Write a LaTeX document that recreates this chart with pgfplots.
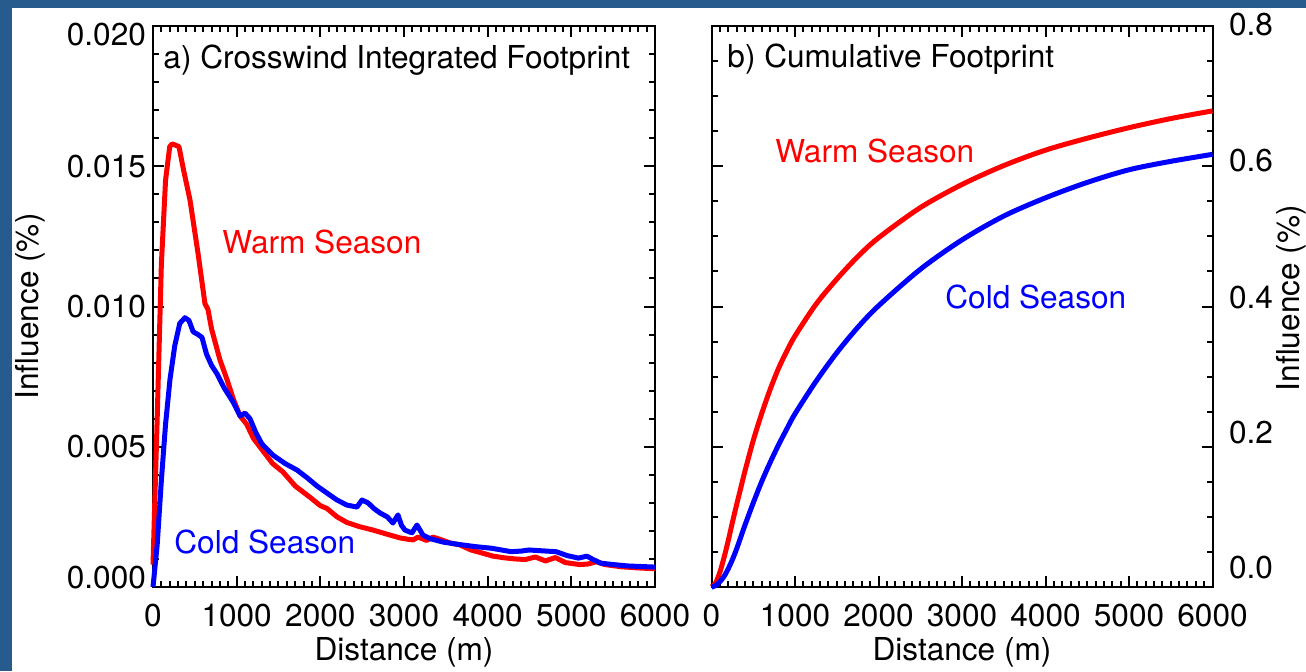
\documentclass[border=0pt]{standalone}
\usepackage{fontspec}
\setmainfont{TeX Gyre Heros}
\usepackage{pgfplots}
\pgfplotsset{compat=1.18}
\definecolor{frameblue}{RGB}{40,91,141}
\definecolor{wred}{RGB}{255,0,0}
\definecolor{cblue}{RGB}{0,0,255}

\pgfplotstableread{
x y
0 0.0008
50 0.006
100 0.0115
150 0.0145
200 0.0157
230 0.0158
310 0.0157
370 0.0148
442 0.0138
538 0.0119
621 0.0101
657 0.0099
700 0.0092
800 0.0081
884 0.0074
960 0.0067
1040 0.0061
1120 0.0058
1200 0.0053
1302 0.0049
1430 0.0044
1554 0.0041
1700 0.0036
1876 0.0032
2000 0.0029
2079 0.0028
2200 0.0025
2318 0.0023
2470 0.00215
2630 0.00203
2800 0.00188
2952 0.00175
3050 0.0017
3110 0.00168
3167 0.00178
3270 0.00166
3346 0.00178
3450 0.00168
3550 0.00157
3669 0.0015
3800 0.00132
3900 0.00124
4065 0.0011
4200 0.00104
4330 0.001
4450 0.00098
4570 0.00107
4690 0.00093
4810 0.00105
4930 0.00087
5100 0.0008
5200 0.00082
5300 0.0009
5400 0.0008
5600 0.00072
5800 0.00068
6000 0.00065
}\warmA

\pgfplotstableread{
x y
0 0
50 0.0015
100 0.0038
150 0.0058
203 0.0074
260 0.0086
320 0.0094
382 0.0096
430 0.0095
480 0.0091
538 0.0090
585 0.0089
640 0.0083
700 0.0079
765 0.0076
850 0.0071
956 0.0066
1040 0.0061
1100 0.0062
1159 0.0060
1230 0.0055
1302 0.0051
1434 0.0047
1580 0.0044
1721 0.00417
1840 0.0039
1960 0.0036
2079 0.00335
2200 0.0031
2318 0.00292
2438 0.00285
2498 0.0031
2570 0.0030
2640 0.0028
2713 0.00264
2800 0.0025
2868 0.00228
2928 0.00257
2970 0.0022
3011 0.00203
3095 0.00193
3155 0.00221
3227 0.00185
3316 0.00172
3470 0.0016
3650 0.00152
3850 0.00144
4050 0.00138
4280 0.00126
4400 0.00128
4495 0.00132
4650 0.00129
4817 0.00126
4950 0.00112
5085 0.00103
5187 0.0011
5260 0.00098
5353 0.00085
5500 0.0008
5675 0.00075
6000 0.00071
}\coldA

\pgfplotstableread{
x y
0 0
50 0.006
100 0.021
150 0.042
200 0.066
250 0.092
300 0.117
350 0.141
400 0.165
500 0.209
600 0.247
700 0.281
800 0.311
900 0.336
1000 0.358
1250 0.403
1500 0.439
1750 0.471
2000 0.498
2500 0.541
3000 0.574
3500 0.601
4000 0.623
4500 0.640
5000 0.655
5500 0.668
6000 0.679
}\warmB

\pgfplotstableread{
x y
0 0
50 0.002
100 0.0075
150 0.015
200 0.026
250 0.039
300 0.054
350 0.071
400 0.088
500 0.120
600 0.150
700 0.177
800 0.202
900 0.225
1000 0.247
1250 0.293
1500 0.334
1750 0.370
2000 0.401
2500 0.453
3000 0.495
3500 0.529
4000 0.555
4500 0.577
5000 0.595
5500 0.607
6000 0.617
}\coldB

\pgfplotsset{
  panel/.style={
    scale only axis,
    height=280.5pt,
    xmin=0, xmax=6000,
    scaled x ticks=false,
    scaled y ticks=false,
    axis line style={line width=1pt},
    every tick/.style={line width=1pt, black},
    major tick length=5.5pt,
    minor tick length=3pt,
    tick align=inside,
    xtick={0,1000,2000,3000,4000,5000,6000},
    xticklabels={0,1000,2000,3000,4000,5000,6000},
    minor x tick num=9,
    xticklabel style={yshift=-5pt},
    xlabel={Distance (m)},
    xlabel style={at={(axis description cs:0.5,-0.116)}, anchor=center},
    clip=false,
  },
  curve/.style={line width=2.5pt, line join=round},
}

\begin{document}
\begin{tikzpicture}[font=\fontsize{15.8pt}{19pt}\selectfont]
\useasboundingbox (0,0) rectangle (653pt,335.5pt);
\begin{scope}
\clip (0,0) rectangle (653pt,335.5pt);
\fill[frameblue] (0,0) rectangle (653pt,335.5pt);
\fill[white] (6pt,0) rectangle (653pt,331.5pt);

\begin{axis}[panel,
  at={(76.5pt,42pt)}, anchor=south west,
  width=251pt,
  ymin=0, ymax=0.02,
  ytick={0,0.005,0.010,0.015,0.020},
  yticklabels={\raisebox{4.5pt}[\height][\depth]{0.000},0.005,0.010,0.015,\raisebox{-4.5pt}[\height][\depth]{0.020}},
  minor y tick num=4,
  ylabel={Influence (\%)},
  ylabel style={at={(axis description cs:-0.245,0.5)}, anchor=center},
]
\addplot[curve, wred] table[x=x,y=y] {\warmA};
\addplot[curve, cblue] table[x=x,y=y] {\coldA};
\node[anchor=west, inner sep=0pt] at (axis cs:120,0.0188) {a) Crosswind Integrated Footprint};
\node[anchor=west, inner sep=0pt, text=wred] at (axis cs:825,0.0123) {Warm Season};
\node[anchor=west, inner sep=0pt, text=cblue] at (axis cs:251,0.0016) {Cold Season};
\end{axis}

\begin{axis}[panel,
  at={(355.75pt,42pt)}, anchor=south west,
  width=250.5pt,
  ymin=0, ymax=0.8,
  ytick={0,0.2,0.4,0.6,0.8},
  yticklabels={\raisebox{9.5pt}[\height][\depth]{0.0},\raisebox{7.3pt}[\height][\depth]{0.2},\raisebox{4.5pt}[\height][\depth]{0.4},\raisebox{3pt}[\height][\depth]{0.6},\raisebox{0.75pt}[\height][\depth]{0.8}},
  minor y tick num=3,
  ytick pos=both,
  yticklabel pos=right,
  yticklabel style={xshift=4.75pt},
  ylabel={Influence (\%)},
  ylabel style={at={(axis description cs:1.157,0.515)}, anchor=center},
]
\addplot[curve, wred, smooth] table[x=x,y=y] {\warmB};
\addplot[curve, cblue, smooth] table[x=x,y=y] {\coldB};
\node[anchor=west, inner sep=0pt] at (axis cs:186,0.753) {b) Cumulative Footprint};
\node[anchor=west, inner sep=0pt, text=wred] at (axis cs:760,0.6216) {Warm Season};
\node[anchor=west, inner sep=0pt, text=cblue] at (axis cs:2796,0.414) {Cold Season};
\end{axis}
\end{scope}
\end{tikzpicture}
\end{document}
